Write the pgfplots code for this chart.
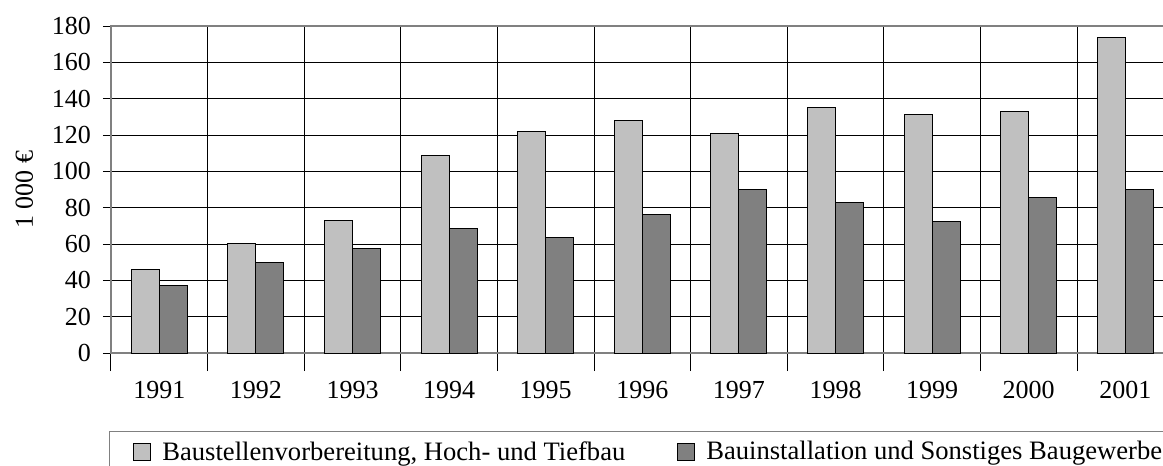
\documentclass[border=0pt]{standalone}
\usepackage{fontspec}
\setmainfont{Liberation Serif}
\usepackage{pgfplots}
\pgfplotsset{compat=1.18}
\definecolor{lightbar}{HTML}{C0C0C0}
\definecolor{darkbar}{HTML}{808080}
\begin{document}
\begin{tikzpicture}
\begin{axis}[
  scale only axis,
  width=530pt, height=163.5pt,
  xmin=-0.5, xmax=10.473,
  ymin=0, ymax=180,
  ytick={0,20,...,180},
  xtick={0,...,10},
  xticklabels={1991,1992,1993,1994,1995,1996,1997,1998,1999,2000,2001},
  minor xtick={-0.5,0.5,...,10.5},
  ymajorgrids=true, xminorgrids=true,
  grid style={black, line width=0.5pt},
  minor grid style={black, line width=0.5pt},
  axis line style={gray, line width=1pt},
  tick pos=left,
  tick align=center,
  major tick length=8pt,
  minor tick length=9pt,
  major x tick style={draw=none},
  minor x tick style={black, line width=0.5pt},
  ytick style={black, line width=0.5pt},
  /pgf/number format/assume math mode=true,
  tick label style={font=\fontsize{13pt}{15pt}\selectfont},
  yticklabel style={xshift=-2.5pt},
  xticklabel style={yshift=-2.5pt},
  ylabel={1 000 €},
  ylabel style={at={(axis description cs:-0.0818,0.5)}, anchor=center, font=\fontsize{13pt}{15pt}\selectfont},
  ybar=0pt,
  bar width=0.29,
  legend columns=2,
  legend style={at={(axis description cs:-0.002,-0.238)}, anchor=north west, draw=gray, line width=0.5pt,
    font=\fontsize{13.3pt}{15pt}\selectfont, inner xsep=12pt, inner ysep=3pt,
    /tikz/every odd column/.append style={column sep=3.5pt},
    /tikz/every even column/.append style={column sep=24pt}},
  legend image code/.code={\draw[#1, line width=0.5pt] (0pt,-4.25pt) rectangle (8.5pt,4.25pt);},
]
\addplot[fill=lightbar, draw=black, line width=0.5pt] coordinates {
(0,46) (1,60.4) (2,73) (3,108.8) (4,122.1) (5,128) (6,120.9) (7,135) (8,131.3) (9,133.2) (10,173.8)};
\addlegendentry{Baustellenvorbereitung, Hoch- und Tiefbau}
\addplot[fill=darkbar, draw=black, line width=0.5pt] coordinates {
(0,37.4) (1,49.7) (2,57.6) (3,68.5) (4,63.6) (5,76) (6,90) (7,82.9) (8,72.4) (9,85.4) (10,89.8)};
\addlegendentry{Bauinstallation und Sonstiges Baugewerbe}
\end{axis}
\pgfresetboundingbox
\path[use as bounding box] (-55.5pt,-56.5pt) rectangle (526pt,176.5pt);
\end{tikzpicture}
\end{document}
